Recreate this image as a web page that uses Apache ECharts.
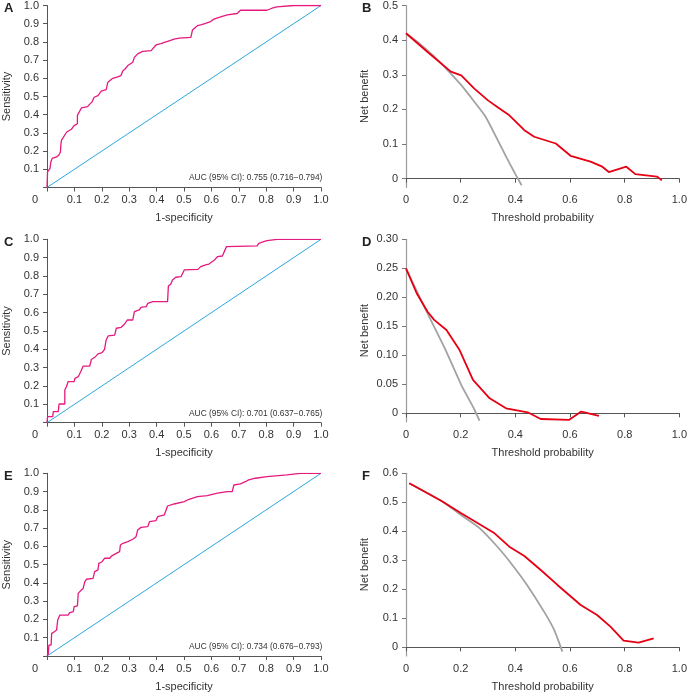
<!DOCTYPE html>
<html>
<head>
<meta charset="utf-8">
<script src="https://cdn.jsdelivr.net/npm/echarts@6/dist/echarts.min.js"></script>
<style>
html,body{margin:0;padding:0;background:#fff;}
#c{width:690px;height:693px;}
</style>
</head>
<body>
<div id="c"></div>
<script>
// ---------- DATA ----------
const panelLetters = ['A', 'B', 'C', 'D', 'E', 'F'];
const aucTexts = [
  'AUC (95% CI): 0.755 (0.716\u22120.794)',
  'AUC (95% CI): 0.701 (0.637\u22120.765)',
  'AUC (95% CI): 0.734 (0.676\u22120.793)'
];
const rocTicks = [0, 0.1, 0.2, 0.3, 0.4, 0.5, 0.6, 0.7, 0.8, 0.9, 1.0];
const dcaXTicks = [0, 0.2, 0.4, 0.6, 0.8, 1.0];
const dcaYTicksB = [0, 0.1, 0.2, 0.3, 0.4, 0.5];
const dcaYTicksD = [0, 0.05, 0.10, 0.15, 0.20, 0.25, 0.30];
const dcaYTicksF = [0, 0.1, 0.2, 0.3, 0.4, 0.5, 0.6];
const refDiagonal = [[0, 0], [1, 1]];

const rocA = [
  [0, 0], [0.001, 0.04], [0.002, 0.086], [0.005, 0.095], [0.011, 0.105], [0.014, 0.14], [0.019, 0.16],
  [0.035, 0.168], [0.044, 0.18], [0.049, 0.195], [0.051, 0.241], [0.053, 0.26], [0.06, 0.27],
  [0.072, 0.305], [0.089, 0.32], [0.099, 0.34], [0.102, 0.35], [0.111, 0.35], [0.111, 0.396],
  [0.116, 0.405], [0.126, 0.438], [0.148, 0.444], [0.156, 0.458], [0.164, 0.469], [0.172, 0.496],
  [0.186, 0.505], [0.198, 0.53], [0.216, 0.538], [0.222, 0.542], [0.222, 0.578], [0.24, 0.6],
  [0.258, 0.608], [0.27, 0.615], [0.277, 0.642], [0.285, 0.651], [0.295, 0.67], [0.301, 0.68],
  [0.313, 0.688], [0.319, 0.715], [0.331, 0.734], [0.349, 0.748], [0.38, 0.752], [0.386, 0.761],
  [0.398, 0.783], [0.416, 0.79], [0.428, 0.797], [0.446, 0.806], [0.464, 0.815], [0.483, 0.821],
  [0.525, 0.825], [0.531, 0.866], [0.549, 0.889], [0.561, 0.894], [0.576, 0.901], [0.597, 0.912],
  [0.609, 0.925], [0.634, 0.938], [0.658, 0.949], [0.694, 0.956], [0.706, 0.974], [0.803, 0.974],
  [0.821, 0.985], [0.839, 0.993], [0.9, 1.0], [1.0, 1.0]
];
const rocC = [
  [0, 0], [0.002, 0.033], [0.021, 0.033], [0.023, 0.06], [0.041, 0.06], [0.044, 0.102], [0.065, 0.102],
  [0.065, 0.178], [0.071, 0.196], [0.077, 0.224], [0.099, 0.224], [0.102, 0.242], [0.114, 0.251],
  [0.123, 0.278], [0.132, 0.309], [0.156, 0.309], [0.162, 0.345], [0.177, 0.36], [0.186, 0.375],
  [0.201, 0.382], [0.21, 0.4], [0.216, 0.451], [0.223, 0.473], [0.247, 0.478], [0.253, 0.515],
  [0.271, 0.52], [0.283, 0.538], [0.293, 0.56], [0.313, 0.56], [0.319, 0.606], [0.337, 0.615],
  [0.343, 0.629], [0.362, 0.633], [0.368, 0.651], [0.386, 0.66], [0.44, 0.66], [0.443, 0.745],
  [0.452, 0.756], [0.458, 0.778], [0.47, 0.793], [0.489, 0.796], [0.501, 0.833], [0.551, 0.836],
  [0.561, 0.851], [0.579, 0.86], [0.591, 0.865], [0.609, 0.884], [0.622, 0.905], [0.64, 0.909],
  [0.655, 0.96], [0.658, 0.964], [0.767, 0.964], [0.773, 0.978], [0.791, 0.987], [0.803, 0.993],
  [0.839, 1.0], [1.0, 1.0]
];
const rocE = [
  [0, 0], [0.005, 0.011], [0.007, 0.06], [0.015, 0.06], [0.017, 0.124], [0.027, 0.133], [0.035, 0.142],
  [0.039, 0.197], [0.047, 0.224], [0.077, 0.224], [0.083, 0.237], [0.096, 0.243], [0.099, 0.27],
  [0.111, 0.274], [0.114, 0.343], [0.123, 0.358], [0.132, 0.37], [0.138, 0.407], [0.144, 0.42],
  [0.168, 0.425], [0.174, 0.462], [0.186, 0.471], [0.189, 0.507], [0.201, 0.516], [0.21, 0.535],
  [0.229, 0.535], [0.235, 0.547], [0.253, 0.562], [0.265, 0.571], [0.268, 0.608], [0.277, 0.617],
  [0.295, 0.626], [0.313, 0.639], [0.325, 0.653], [0.331, 0.69], [0.343, 0.704], [0.368, 0.708],
  [0.374, 0.735], [0.398, 0.741], [0.404, 0.763], [0.428, 0.772], [0.44, 0.821], [0.464, 0.832],
  [0.501, 0.845], [0.513, 0.854], [0.549, 0.872], [0.585, 0.878], [0.622, 0.891], [0.658, 0.9],
  [0.676, 0.9], [0.682, 0.936], [0.706, 0.942], [0.724, 0.954], [0.736, 0.964], [0.761, 0.973],
  [0.803, 0.982], [0.876, 0.991], [0.924, 1.0], [1.0, 1.0]
];

const dcaModelB = [
  [0, 0.42], [0.08, 0.365], [0.164, 0.309], [0.202, 0.298], [0.25, 0.26], [0.3, 0.226], [0.338, 0.205],
  [0.378, 0.183], [0.433, 0.14], [0.469, 0.121], [0.548, 0.1015], [0.602, 0.066], [0.675, 0.049],
  [0.718, 0.0345], [0.742, 0.019], [0.806, 0.0345], [0.839, 0.013], [0.918, 0.006], [0.936, -0.005]
];
const dcaAllB = [
  [0, 0.42], [0.05, 0.39], [0.1, 0.355], [0.15, 0.315], [0.2, 0.272], [0.25, 0.222], [0.29, 0.18],
  [0.33, 0.12], [0.37, 0.058], [0.4, 0.013], [0.423, -0.019]
];
const dcaModelD = [
  [0, 0.25], [0.039, 0.207], [0.079, 0.175], [0.103, 0.161], [0.148, 0.1437], [0.196, 0.109],
  [0.245, 0.0575], [0.306, 0.0259], [0.366, 0.0086], [0.445, 0.0017], [0.493, -0.0098],
  [0.596, -0.0115], [0.641, 0.0029], [0.706, -0.0046]
];
const dcaAllD = [
  [0, 0.25], [0.04, 0.21], [0.081, 0.17], [0.142, 0.112], [0.202, 0.049], [0.235, 0.02], [0.251, 0.0057], [0.269, -0.0126]
];
const dcaModelF = [
  [0.012, 0.5655], [0.13, 0.5046], [0.202, 0.462], [0.324, 0.393], [0.378, 0.347], [0.433, 0.315],
  [0.493, 0.2667], [0.554, 0.215], [0.639, 0.146], [0.699, 0.1115], [0.748, 0.0713], [0.796, 0.023],
  [0.851, 0.0161], [0.906, 0.031]
];
const dcaAllF = [
  [0.012, 0.5655], [0.13, 0.5046], [0.2, 0.457], [0.27, 0.41], [0.336, 0.345], [0.384, 0.29],
  [0.439, 0.22], [0.505, 0.123], [0.542, 0.06], [0.572, -0.015]
];

// ---------- LAYOUT ----------
const FONT = '"Liberation Sans", Arial, sans-serif';
const TXT = '#333';
const AX = '#555';
const rocGrids = [
  {left: 45.5, top: 4.7, width: 275.5, height: 182.8},
  {left: 45.5, top: 239.3, width: 275.5, height: 183.4},
  {left: 45.5, top: 473.3, width: 275.5, height: 182.7}
];
const dcaGrids = [
  {left: 406, top: 4.7, width: 275, height: 182.6},
  {left: 406, top: 239.3, width: 275, height: 182.7},
  {left: 406, top: 473.3, width: 275, height: 182.7}
];
const rocData = [rocA, rocC, rocE];
const dcaModel = [dcaModelB, dcaModelD, dcaModelF];
const dcaAll = [dcaAllB, dcaAllD, dcaAllF];
const dcaYTicks = [dcaYTicksB, dcaYTicksD, dcaYTicksF];
const dcaYMin = [-0.025, -0.015, -0.03];
const dcaYMax = [0.5, 0.30, 0.6];
const dcaYDigits = [1, 2, 1];

const grid = [], xAxis = [], yAxis = [], series = [], graphic = [];

function fmt(v, d) { return Math.abs(v) < 1e-9 ? '0' : v.toFixed(d); }

for (let i = 0; i < 3; i++) {
  // ROC panel
  const gi = grid.length;
  grid.push(rocGrids[i]);
  xAxis.push({
    gridIndex: gi, type: 'value', min: 0, max: 1, interval: 0.1,
    name: '1-specificity', nameLocation: 'middle', nameGap: 25,
    nameTextStyle: {fontFamily: FONT, fontSize: 11, color: TXT},
    axisLine: {lineStyle: {color: AX, width: 1}},
    axisTick: {show: true, length: 4, lineStyle: {color: AX}},
    splitLine: {show: false},
    axisLabel: {
      fontFamily: FONT, fontSize: 11, color: TXT, margin: 7,
      formatter: v => Math.abs(v) < 1e-9 ? '{z|0}' : v.toFixed(1),
      rich: {z: {fontFamily: FONT, fontSize: 11, color: TXT, padding: [0, 24, 0, 0]}}
    }
  });
  yAxis.push({
    gridIndex: gi, type: 'value', min: 0, max: 1, interval: 0.1,
    name: 'Sensitivity', nameLocation: 'middle', nameGap: 35,
    nameTextStyle: {fontFamily: FONT, fontSize: 11, color: TXT},
    axisLine: {show: true, lineStyle: {color: AX, width: 1}},
    axisTick: {show: true, length: 4, lineStyle: {color: AX}},
    splitLine: {show: false},
    axisLabel: {
      fontFamily: FONT, fontSize: 11, color: TXT, margin: 8,
      formatter: v => Math.abs(v) < 1e-9 ? '' : v.toFixed(1)
    }
  });
  series.push({
    type: 'line', xAxisIndex: gi, yAxisIndex: gi, data: refDiagonal,
    symbol: 'none', lineStyle: {color: '#2aa6df', width: 1}, silent: true, z: 2
  });
  series.push({
    type: 'line', xAxisIndex: gi, yAxisIndex: gi, data: rocData[i],
    symbol: 'none', lineStyle: {color: '#e5197f', width: 1.3}, silent: true, z: 3
  });
  const g = rocGrids[i];
  graphic.push({
    type: 'text', left: g.left + g.width - 132, top: g.top + g.height - 13.5,
    style: {text: aucTexts[i], font: '8.4px ' + FONT, fill: TXT}
  });
  graphic.push({
    type: 'text', left: 4, top: g.top - 3,
    style: {text: panelLetters[i * 2], font: 'bold 13px ' + FONT, fill: '#222'}
  });

  // DCA panel
  const gj = grid.length;
  grid.push(dcaGrids[i]);
  xAxis.push({
    gridIndex: gj, type: 'value', min: 0, max: 1, interval: 0.2,
    name: 'Threshold probability', nameLocation: 'middle', nameGap: 25,
    nameTextStyle: {fontFamily: FONT, fontSize: 11, color: TXT},
    axisLine: {lineStyle: {color: AX, width: 1}},
    axisTick: {show: true, length: 4, lineStyle: {color: AX}},
    splitLine: {show: false},
    axisLabel: {fontFamily: FONT, fontSize: 11, color: TXT, margin: 7, formatter: v => fmt(v, 1)}
  });
  const d = dcaYDigits[i];
  yAxis.push({
    gridIndex: gj, type: 'value', min: dcaYMin[i], max: dcaYMax[i],
    name: 'Net benefit', nameLocation: 'middle', nameGap: 36,
    nameTextStyle: {fontFamily: FONT, fontSize: 11, color: TXT},
    axisLine: {show: true, lineStyle: {color: '#9a9a9a', width: 1.2}},
    axisTick: {show: true, length: 4, lineStyle: {color: '#777'}, customValues: dcaYTicks[i]},
    splitLine: {show: false},
    axisLabel: {
      fontFamily: FONT, fontSize: 11, color: TXT, margin: 8,
      customValues: dcaYTicks[i], formatter: v => fmt(v, d)
    }
  });
  series.push({
    type: 'line', xAxisIndex: gj, yAxisIndex: gj, data: dcaAll[i],
    symbol: 'none', smooth: 0.2, lineStyle: {color: '#a2a2a2', width: 1.8}, silent: true, z: 2
  });
  series.push({
    type: 'line', xAxisIndex: gj, yAxisIndex: gj, data: dcaModel[i],
    symbol: 'none', lineStyle: {color: '#e60013', width: 1.8}, silent: true, z: 3
  });
  const h = dcaGrids[i];
  graphic.push({
    type: 'text', left: 362, top: h.top - 3,
    style: {text: panelLetters[i * 2 + 1], font: 'bold 13px ' + FONT, fill: '#222'}
  });
}

const chart = echarts.init(document.getElementById('c'), null, {renderer: 'canvas'});
chart.setOption({
  animation: false,
  backgroundColor: '#fff',
  grid, xAxis, yAxis, series, graphic
});
</script>
</body>
</html>
